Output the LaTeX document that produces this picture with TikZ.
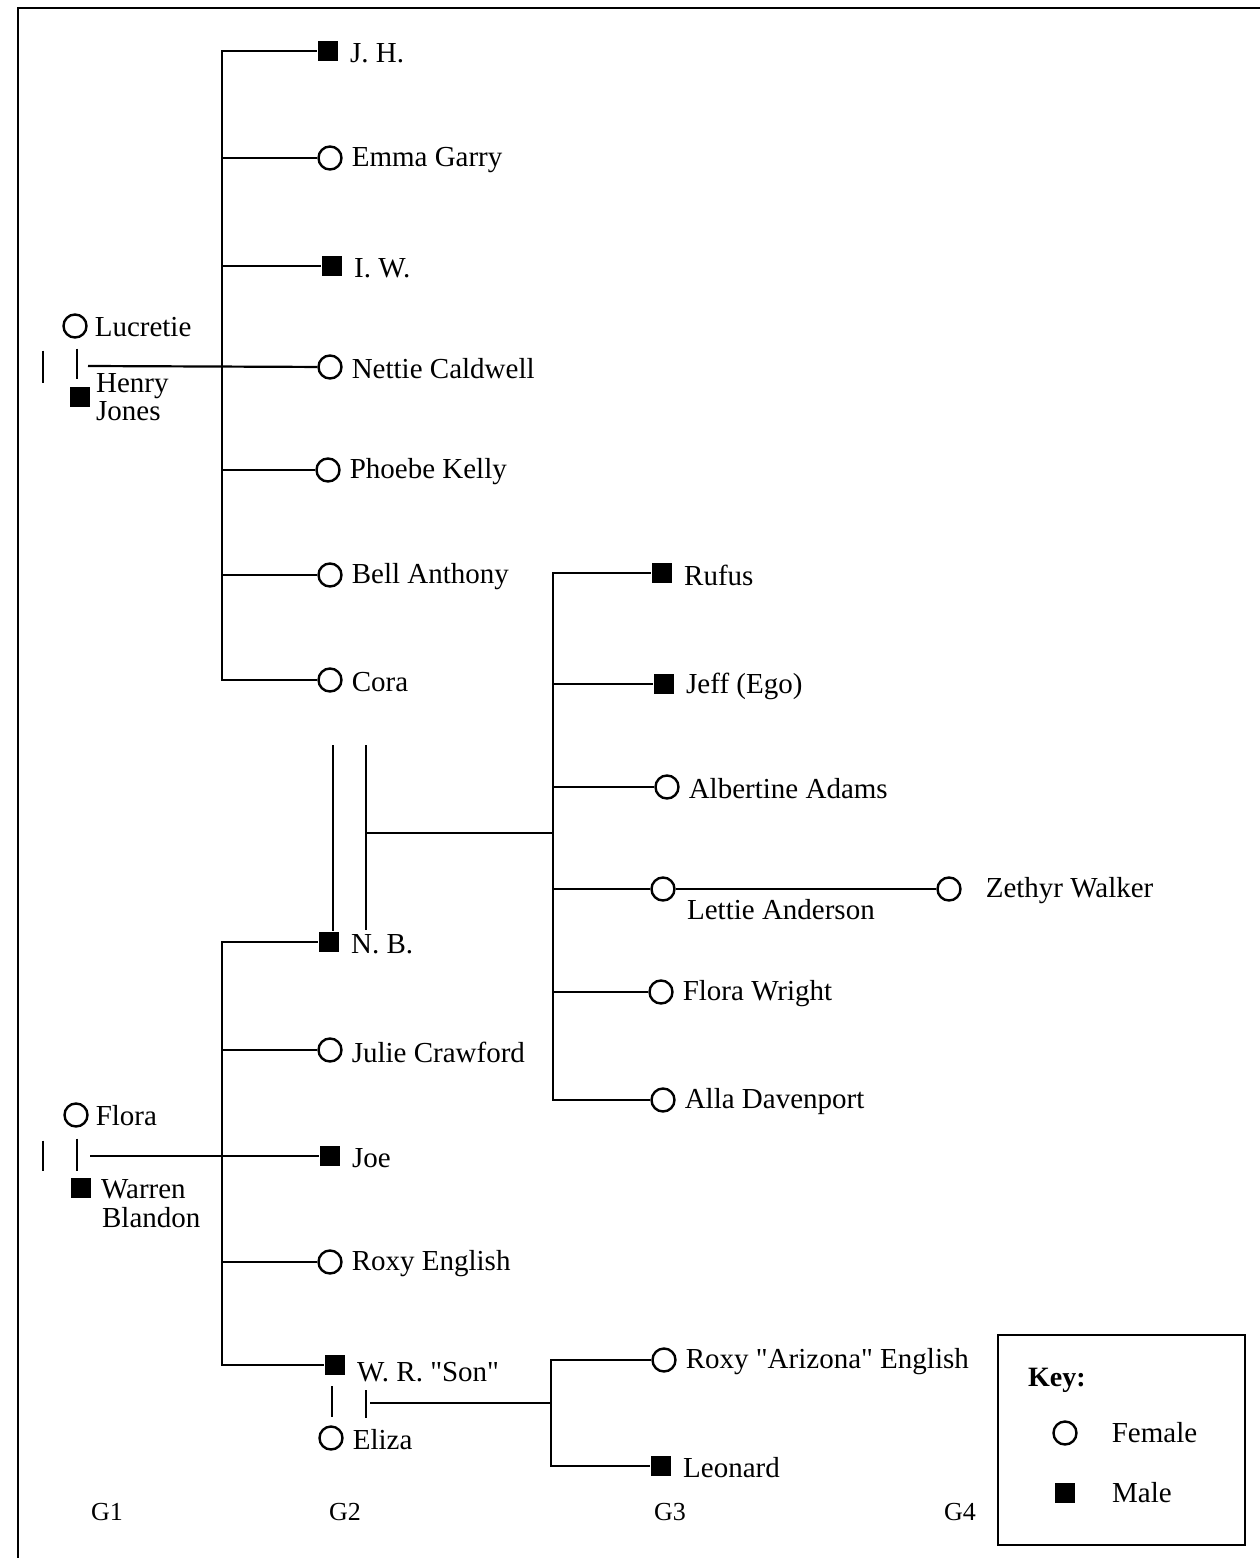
\documentclass[tikz,border=0pt]{standalone}
\usepackage{fontspec}
\setmainfont{Liberation Serif}
\usetikzlibrary{positioning}

\tikzset{
  lbl/.style={font=\fontsize{29}{29}\selectfont, inner sep=1pt},
  every label/.style={lbl},
  female/.style={circle, draw, line width=2.4pt, minimum size=23pt, inner sep=0pt},
  male/.style={rectangle, fill=black, minimum size=20pt, inner sep=0pt},
  fname/.style={label={[label distance=7pt, yshift=-2pt]right:{#1}}},
  mname/.style={label={[label distance=9pt, yshift=-2pt]right:{#1}}},
  gen/.style={font=\fontsize{26}{28}\selectfont},
}

\begin{document}
\begin{tikzpicture}[x=1pt, y=-1pt, line width=2.2pt]

  %% ════ 外框 ════
  \draw[line width=2.6pt] (18,1558) -- (18,8) -- (1260,8);

  %% ════ G1：Lucretie / Henry Jones ════
  \node[female, label={[label distance=5pt, yshift=-1pt]right:Lucretie}] (lucretie) at (75,326) {};
  \node[male] (henry) at (80,397) {};
  \node[lbl, anchor=west, align=left, font=\fontsize{29}{28}\selectfont] (henryL) at (94,397) {Henry\\Jones};
  \draw ([shift={(2,10)}]lucretie.south) -- ([shift={(-3,-7)}]henry.north);
  \draw ([shift={(-32,12)}]lucretie.south) -- ++(0,32);
  \coordinate (lucDrop) at (88,366);

  %% ════ G2：Henry Jones 的子女 ════
  \node[male,   mname={J. H.}]           (jh)     at (328,51)  {};
  \node[female, fname={Emma Garry}]      (emma)   at (330,158) {};
  \node[male,   mname={I. W.}]           (iw)     at (332,266) {};
  \node[female, fname={Nettie Caldwell}] (nettie) at (330,367) {};
  \node[female, fname={Phoebe Kelly}]    (phoebe) at (328,470) {};
  \node[female, fname={Bell Anthony}]    (bell)   at (330,575) {};
  \node[female, fname={Cora}]            (cora)   at (330,680) {};

  \coordinate (sibA) at (222,0);
  \draw (jh) -- (sibA |- jh) -- (sibA |- cora) -- (cora);
  \foreach \n in {emma,iw,phoebe,bell}
    \draw (sibA |- \n) -- (\n);
  \draw (lucDrop) -- (nettie);

  %% ════ G1：Flora / Warren Blandon ════
  \node[female, label={[label distance=5pt, yshift=-1pt]right:Flora}] (flora) at (76,1115) {};
  \node[male] (warren) at (81,1188) {};
  \node[lbl, anchor=west, align=left, font=\fontsize{29}{29}\selectfont] (warrenL) at (99,1204) {Warren\\\hspace{1pt}Blandon};
  \draw ([shift={(1,11)}]flora.south) -- ([shift={(-4,-6)}]warren.north);
  \draw ([shift={(-33,13)}]flora.south) -- ++(0,30);
  \coordinate (floDrop) at (90,1156);

  %% ════ G2：Warren Blandon 的子女 ════
  \node[male,   mname={N. B.}]          (nb)    at (329,942)  {};
  \node[female, fname={Julie Crawford}] (julie) at (330,1050) {};
  \node[male,   mname={Joe}]            (joe)   at (330,1156) {};
  \node[female, fname={Roxy English}]   (roxy)  at (330,1262) {};
  \node[male,   label={[label distance=9pt, yshift=-7pt]right:{W. R. \textquotedbl Son\textquotedbl}}] (wr) at (335,1365) {};
  \node[female, fname={Eliza}]          (eliza) at (331,1438) {};

  \coordinate (sibB) at (222,0);
  \draw (nb) -- (sibB |- nb) -- (sibB |- wr) -- (wr);
  \foreach \n in {julie,roxy}
    \draw (sibB |- \n) -- (\n);
  \draw (floDrop) -- (joe);

  %% ════ 婚配：Cora / N. B. ════
  \coordinate (nbA) at (333,745);
  \coordinate (nbB) at (366,745);
  \draw (nbA) -- (nbA |- nb.north);
  \draw (nbB) -- ++(0,185);
  \coordinate (nbDrop) at (366,833);

  %% ════ G3：N. B. 的子女 ════
  \node[male,   mname={Rufus}]           (rufus)     at (662,573)  {};
  \node[male,   mname={Jeff (Ego)}]      (jeff)      at (664,684)  {};
  \node[female, fname={Albertine Adams}] (albertine) at (667,787)  {};
  \node[female]                          (lettie)    at (663,889)  {};
  \node[lbl, anchor=west] (lettieL) at (685,910) {Lettie Anderson};
  \node[female, label={[label distance=22pt, yshift=-2pt]right:{Zethyr Walker}}] (zethyr) at (949,889) {};
  \node[female, fname={Flora Wright}]    (floraw)    at (661,992)  {};
  \node[female, fname={Alla Davenport}]  (alla)      at (663,1100) {};

  \coordinate (sibC) at (553,0);
  \draw (rufus) -- (sibC |- rufus) -- (sibC |- alla) -- (alla);
  \foreach \n in {jeff,albertine,lettie,floraw}
    \draw (sibC |- \n) -- (\n);
  \draw (nbDrop) -- (sibC |- nbDrop);
  \draw (lettie) -- (zethyr);

  %% ════ 婚配：W. R. "Son" / Eliza ════
  \draw ([shift={(-3,10)}]wr.south) -- ([shift={(1,-8)}]eliza.north);
  \coordinate (wrB) at (366,1390);
  \draw (wrB) -- ++(0,28);
  \coordinate (wrDrop) at (370,1403);

  %% ════ G3：W. R. 的子女 ════
  \node[female, fname={Roxy \textquotedbl Arizona\textquotedbl{} English}] (roxya) at (664,1360) {};
  \node[male,   mname={Leonard}] (leonard) at (661,1466) {};

  \coordinate (sibD) at (551,0);
  \draw (roxya) -- (sibD |- roxya) -- (sibD |- leonard) -- (leonard);
  \draw (wrDrop) -- (sibD |- wrDrop);

  %% ════ 代际标注 ════
  \node[gen] (g1) at (107,1512) {G1};
  \node[gen] (g2) at (345,1512) {G2};
  \node[gen] (g3) at (670,1512) {G3};
  \node[gen] (g4) at (960,1512) {G4};

  %% ════ 图例 ════
  \draw[line width=1.4pt] (998,1335) rectangle (1245,1545);
  \node[lbl, anchor=west, font=\bfseries\fontsize{28}{29}\selectfont] (keyT) at (1026,1380) {Key:};
  \node[female, label={[label distance=32pt]right:Female}] (keyF) at (1065,1433) {};
  \node[male,   label={[label distance=34pt]right:Male}]   (keyM) at (1065,1493) {};

  % 钉死画布
  \pgfresetboundingbox
  \path[use as bounding box] (0,0) rectangle (1260,1558);
\end{tikzpicture}
\end{document}
